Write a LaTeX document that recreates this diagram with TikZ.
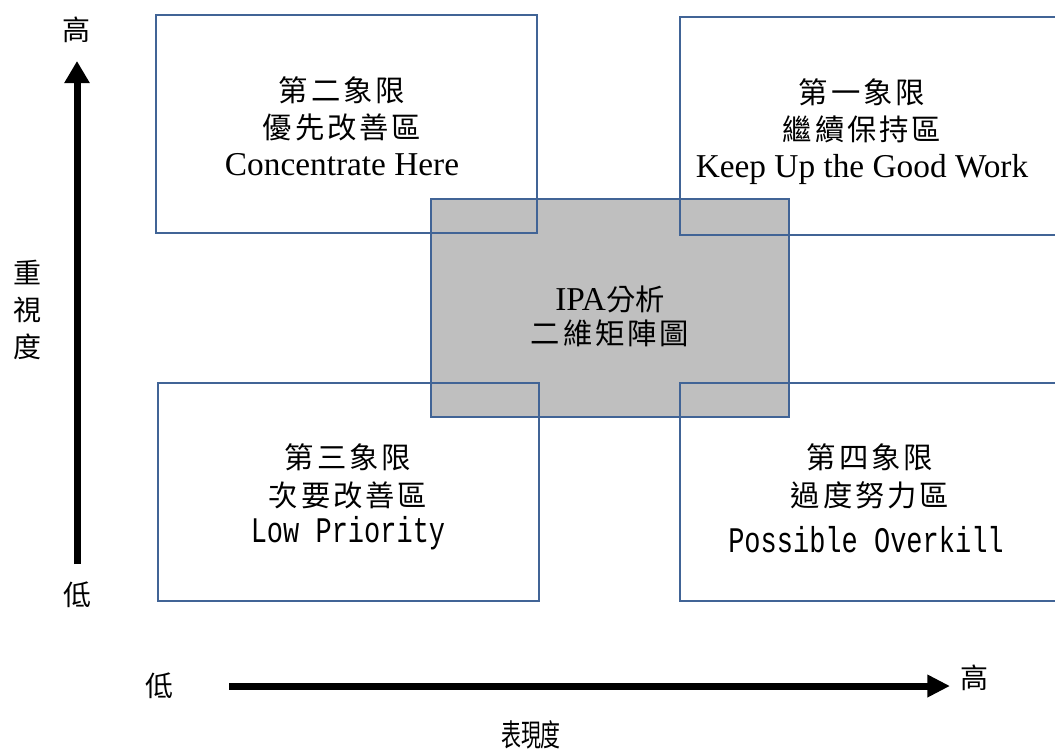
\documentclass[tikz,border=0pt]{standalone}
\usepackage{fontspec}
\setmainfont{Liberation Serif}
\newfontfamily\cjkls[LetterSpace=10]{Noto Sans CJK TC}
\newfontfamily\cjkplain{Noto Sans CJK TC}
\newfontfamily\cjknarrow[FakeStretch=0.65]{Noto Sans CJK TC}
\newfontfamily\monolat[FakeStretch=0.75]{Liberation Mono}
\usetikzlibrary{arrows.meta}
\definecolor{boxblue}{RGB}{65,100,150}
\definecolor{midgray}{RGB}{191,191,191}
\begin{document}
\begin{tikzpicture}[x=0.75pt,y=-0.75pt,
  quadbox/.style={draw=boxblue, line width=1.2pt, inner sep=0pt, minimum height=163.5pt},
  centerbox/.style={draw=boxblue, fill=midgray, line width=1.2pt, inner sep=0pt, minimum width=268.5pt, minimum height=163.5pt},
  cjkline/.style={anchor=base, inner sep=0pt, font=\cjkls\fontsize{22pt}{26pt}\selectfont},
  serifline/.style={anchor=base, inner sep=0pt, font=\rmfamily\fontsize{25pt}{30pt}\selectfont},
  monoline/.style={anchor=base, inner sep=0pt, font=\monolat\fontsize{27pt}{32pt}\selectfont},
  axislabel/.style={inner sep=0pt, font=\cjkplain\fontsize{21pt}{27.75pt}\selectfont},
  axisline/.style={line width=5.25pt}]
\useasboundingbox (0,0) rectangle (1055,751);
\clip (0,0) rectangle (1055,751);

% boxes
\node[centerbox] (mid) at (610,308) {};
\node[quadbox, minimum width=285.75pt] (q2) at (346.5,124) {};
\node[quadbox, minimum width=296.25pt] (q1) at (877.5,126) {};
\node[quadbox, minimum width=285.75pt] (q3) at (348.5,492) {};
\node[quadbox, minimum width=296.25pt] (q4) at (877.5,492) {};

% quadrant texts
\node[cjkline] (q2a) at (342,101) {第二象限};
\node[cjkline] (q2b) at (342,138) {優先改善區};
\node[serifline] (q2c) at (342,175) {Concentrate Here};

\node[cjkline] (q1a) at (862,103) {第一象限};
\node[cjkline] (q1b) at (862,140) {繼續保持區};
\node[serifline] (q1c) at (862,177) {Keep Up the Good Work};

\node[anchor=base, inner sep=0pt] (mida) at (610,310) {\rmfamily\fontsize{25pt}{30pt}\selectfont IPA{\cjkplain\fontsize{22pt}{26pt}\selectfont 分析}};
\node[cjkline] (midb) at (610,344) {二維矩陣圖};

\node[cjkline] (q3a) at (348,468) {第三象限};
\node[cjkline] (q3b) at (348,506) {次要改善區};
\node[monoline] (q3c) at (348,542) {Low Priority};

\node[cjkline] (q4a) at (870,468) {第四象限};
\node[cjkline] (q4b) at (870,506) {過度努力區};
\node[monoline] (q4c) at (866,552) {Possible Overkill};

% axes
\coordinate (ybot) at (77,564);
\coordinate (ytop) at (77,61);
\draw[axisline, -{Triangle[length=16.5pt,width=18pt]}] (ybot) -- (ytop);
\coordinate (xleft) at (229,686);
\coordinate (xright) at (950,686);
\draw[axisline, -{Triangle[length=17pt,width=16pt]}] (xleft) -- (xright);

% axis labels
\node[axislabel] (yhigh) at (76,30) {高};
\node[axislabel] (ylow) at (77,595) {低};
\node[axislabel, align=center] (yname) at (27,310) {重\\視\\度};
\node[axislabel] (xlow) at (159,686) {低};
\node[axislabel] (xhigh) at (974,678) {高};
\node[inner sep=0pt, font=\cjknarrow\fontsize{23pt}{26pt}\selectfont] (xname) at (531,735) {表現度};
\end{tikzpicture}
\end{document}
